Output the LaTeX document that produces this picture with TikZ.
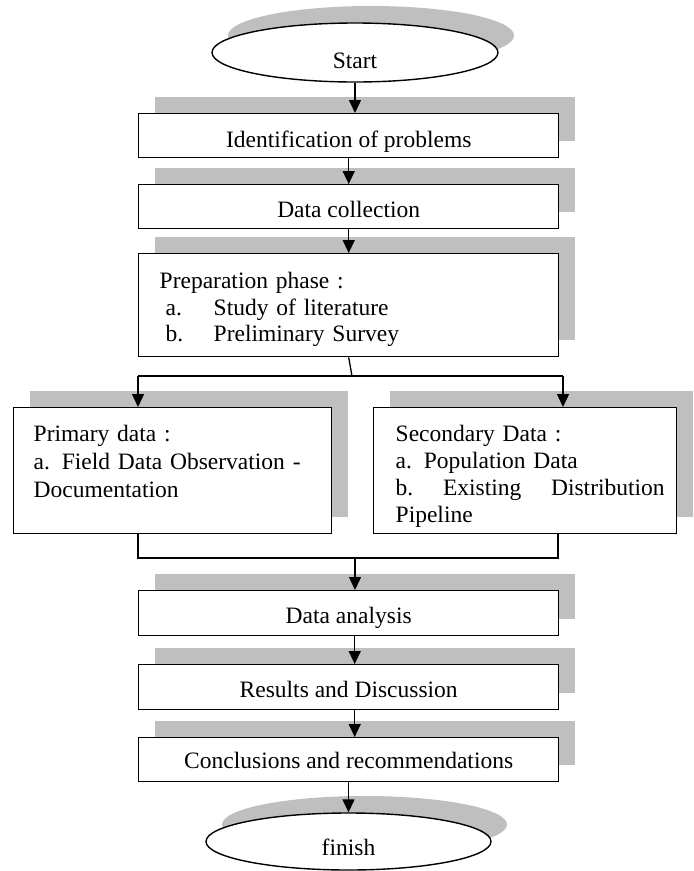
\documentclass[tikz,border=0pt]{standalone}
\usepackage{fontspec}
\setmainfont{Liberation Serif}
\usetikzlibrary{shapes.geometric,shadows,arrows.meta,calc}
\definecolor{shade}{RGB}{191,191,191}
\begin{document}
\begin{tikzpicture}[x=1pt,y=-1pt,
  txt/.style={font=\fontsize{23.5}{26.5}\selectfont},
  shad/.style={drop shadow={shadow xshift=16pt,shadow yshift=17pt,fill=shade,opacity=1}},
  box/.style={txt,draw,line width=1.4pt,fill=white,inner sep=0pt,anchor=north west,
    minimum width=420pt,minimum height=44pt,text height=33pt,text depth=11pt,shad},
  oval/.style={txt,ellipse,draw,line width=1.4pt,fill=white,inner sep=0pt,text depth=0pt,shad},
  conn/.style={line width=1.3pt},
  arr/.style={conn,-{Triangle[width=12pt,length=13pt]}}]
\useasboundingbox (0,0) rectangle (694,871);

\node[oval,minimum width=286pt,minimum height=59pt,text height=31pt] (start) at (355,52.5) {Start};
\node[box,text height=34pt,text depth=10pt] (b1) at (138,113) {Identification of problems};
\node[box] (b2) at (138,184) {Data collection};
\node[box,minimum height=103pt,text width=378pt,align=left,text height=35pt,text depth=68pt] (b3) at (138,253)
  {Preparation phase :\\
   \hspace*{6pt}\makebox[48pt][l]{a.}Study of literature\\
   \hspace*{6pt}\makebox[48pt][l]{b.}Preliminary Survey};
\node[box,minimum width=318pt,minimum height=126pt,text width=278pt,align=left,
  font=\fontsize{23.5}{28}\selectfont,text height=34pt,text depth=92pt] (prim) at (13,407)
  {Primary data :\\ a. Field Data Observation -\\ Documentation};
\node[box,minimum width=303pt,minimum height=126pt,text width=259pt,align=left,
  font=\fontsize{23.5}{27}\selectfont,text height=34pt,text depth=92pt] (sec) at (373,407)
  {Secondary Data :\\ a. Population Data\\ \makebox[259pt][l]{\hbox to 269pt{b.\hfill Existing\hfill Distribution}}\\ Pipeline};
\node[box,minimum height=45pt,text depth=12pt] (b4) at (138,590) {Data analysis};
\node[box,minimum height=45pt,text depth=12pt] (b5) at (138,664) {Results and Discussion};
\node[box,text height=31pt,text depth=13pt] (b6) at (138,737) {Conclusions and recommendations};
\node[oval,minimum width=285pt,minimum height=57pt,text height=27pt] (fin) at (348.5,841.5) {finish};

\coordinate (split) at (352,376);
\coordinate (pL) at (138,376);
\coordinate (pR) at (563,376);
\coordinate (mL) at (138,558);
\coordinate (mR) at (558,558);
\coordinate (mC) at (355,558);
\coordinate (a4) at ($(b4.south)+(6,0)$);
\coordinate (a5) at ($(b5.south)+(6,0)$);

\draw[arr] (start.south) -- (start.south |- b1.north);
\draw[arr] (b1.south) -- (b2.north);
\draw[arr] (b2.south) -- (b3.north);
\draw[conn] (b3.south) -- (split);
\draw[conn] (pL) -- (pR);
\draw[arr] (pL) -- (pL |- prim.north);
\draw[arr] (pR) -- (pR |- sec.north);
\draw[conn] (mL |- prim.south) -- (mL) -- (mR) -- (mR |- sec.south);
\draw[arr] (mC) -- (mC |- b4.north);
\draw[arr] (a4) -- (a4 |- b5.north);
\draw[arr] (a5) -- (a5 |- b6.north);
\draw[arr] (b6.south -| fin.north) -- (fin.north);
\end{tikzpicture}
\end{document}
